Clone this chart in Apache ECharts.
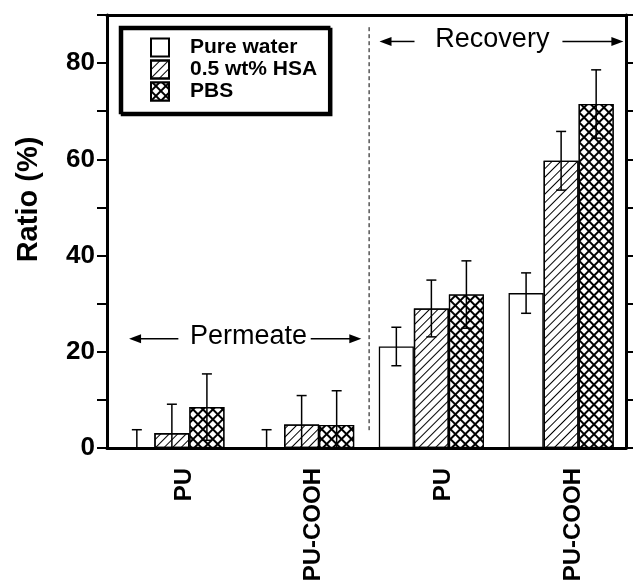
<!DOCTYPE html>
<html><head><meta charset="utf-8">
<script src="https://cdn.jsdelivr.net/npm/echarts@6/dist/echarts.min.js"></script>
<style>html,body{margin:0;padding:0;background:#fff}#c{width:633px;height:588px}</style>
</head><body><div id="c"></div>
<script>
// ---- data ----
const categories = ['PU', 'PU-COOH', 'PU', 'PU-COOH'];
const seriesNames = ['Pure water', '0.5 wt% HSA', 'PBS'];
const water = [0, 0, 21.1, 32.2];
const waterErr = [3.8, 3.8, 4.0, 4.2];
const hsa = [3.1, 4.9, 29.0, 59.7];
const hsaErr = [6.0, 6.0, 5.9, 6.1];
const pbs = [8.5, 4.8, 31.9, 71.5];
const pbsErr = [6.9, 7.1, 7.0, 7.1];
const yTickLabels = [0, 20, 40, 60, 80];
const regionLabels = ['Permeate', 'Recovery'];

const F = '"Liberation Sans", Arial, Helvetica, sans-serif';
const BAR_GAP_CAT = 0.19;

const chart = echarts.init(document.getElementById('c'), null, {renderer: 'canvas'});

function errSeries(vals, errs, k) {
  return {
    type: 'custom', name: seriesNames[k] + ' error', xAxisIndex: 0, yAxisIndex: 0,
    z: 5, clip: true, silent: true,
    data: vals.map((v, i) => [i, v, errs[i]]),
    encode: {x: 0, y: 1},
    renderItem(params, api) {
      const i = api.value(0), v = api.value(1), e = api.value(2);
      const band = api.size([1, 0])[0];
      const bw = band * (1 - BAR_GAP_CAT) / 3;
      const x = api.coord([i, v])[0] + (k - 1) * bw;
      const top = api.coord([i, v + e])[1];
      const bot = api.coord([i, v - e])[1];
      const cap = 5;
      const st = {stroke: '#000', lineWidth: 1.5};
      return {type: 'group', children: [
        {type: 'line', shape: {x1: x, y1: top, x2: x, y2: bot}, style: st},
        {type: 'line', shape: {x1: x - cap, y1: top, x2: x + cap, y2: top}, style: st},
        {type: 'line', shape: {x1: x - cap, y1: bot, x2: x + cap, y2: bot}, style: st}
      ]};
    }
  };
}

const option = {
  animation: false,
  backgroundColor: '#fff',
  grid: {left: 107, right: 7, top: 15, bottom: 140, containLabel: false},
  legend: {
    data: seriesNames, orient: 'vertical', left: 120, top: 27,
    padding: [10, 12, 11, 30], itemGap: 1, itemWidth: 18, itemHeight: 18,
    icon: 'rect',
    borderColor: '#000', borderWidth: 2.5, backgroundColor: '#fff',
    shadowColor: '#000', shadowOffsetX: 2, shadowOffsetY: 2, shadowBlur: 0,
    textStyle: {fontSize: 21, fontWeight: 'bold', fontFamily: F, color: '#000', padding: [0, 0, 0, 16]}
  },
  xAxis: [{
    type: 'category', data: categories, position: 'bottom',
    axisLine: {onZero: false, lineStyle: {color: '#000', width: 3}},
    axisTick: {show: false},
    axisLabel: {interval: 0, rotate: 90, margin: 20, fontSize: 24, fontWeight: 'bold',
      color: '#000', fontFamily: F, verticalAlign: 'top'}
  }, {
    type: 'category', data: categories, position: 'top',
    axisLine: {show: true, onZero: false, lineStyle: {color: '#000', width: 3}},
    axisTick: {show: false}, axisLabel: {show: false}
  }, {
    type: 'value', min: -0.5, max: 3.5, show: false
  }],
  yAxis: [{
    type: 'value', min: 0, max: 90, interval: 10, position: 'left',
    name: 'Ratio (%)', nameLocation: 'middle', nameGap: 64,
    nameTextStyle: {fontSize: 29, fontWeight: 'bold', color: '#000', fontFamily: F, padding: [0, 0, 0, 64]},
    axisLine: {show: true, onZero: false, lineStyle: {color: '#000', width: 3}},
    axisTick: {show: true, inside: false, length: 10, lineStyle: {color: '#000', width: 2}},
    axisLabel: {color: '#000', fontSize: 26, fontWeight: 'bold', fontFamily: F, margin: 12,
      formatter: v => yTickLabels.includes(v) ? String(v) : ''},
    splitLine: {show: false}
  }, {
    type: 'value', min: 0, max: 90, interval: 10, position: 'right',
    axisLine: {show: true, onZero: false, lineStyle: {color: '#000', width: 3}},
    axisTick: {show: true, inside: false, length: 8, lineStyle: {color: '#000', width: 2}},
    axisLabel: {show: false}, splitLine: {show: false}
  }],
  series: [
    {type: 'bar', name: seriesNames[0], data: water, barGap: '0%', barCategoryGap: (BAR_GAP_CAT * 100) + '%',
      itemStyle: {color: '#fff', borderColor: '#000', borderWidth: 1.3}},
    {type: 'bar', name: seriesNames[1], data: hsa, barGap: '0%', barCategoryGap: (BAR_GAP_CAT * 100) + '%',
      itemStyle: {color: '#fff', borderColor: '#000', borderWidth: 1.3,
        decal: {symbol: 'rect', symbolSize: 1, dashArrayX: [1, 0], dashArrayY: [1, 4.8],
          rotation: -Math.PI / 4, color: '#000'}}},
    {type: 'bar', name: seriesNames[2], data: pbs, barGap: '0%', barCategoryGap: (BAR_GAP_CAT * 100) + '%',
      itemStyle: {color: '#000', borderColor: '#000', borderWidth: 1.3,
        decal: {symbol: 'rect', symbolSize: 1, dashArrayX: [5, 1.1], dashArrayY: [5, 1.1],
          rotation: Math.PI / 4, color: '#fff'}}},
    errSeries(water, waterErr, 0),
    errSeries(hsa, hsaErr, 1),
    errSeries(pbs, pbsErr, 2)
  ]
};
chart.setOption(option);

// annotations in data units (x on the helper value axis, y on the ratio axis)
const annotations = [
  {text: regionLabels[0], y: 22.7, textX: 0.59, left: [0.05, -0.33], right: [1.07, 1.46]},
  {text: regionLabels[1], y: 84.5, textX: 2.47, left: [1.87, 1.60], right: [3.01, 3.48]}
];
const separator = {x: 1.52, y1: 3.7, y2: 88};

const PX = x => chart.convertToPixel({xAxisIndex: 2}, x);
const PY = y => chart.convertToPixel({yAxisIndex: 0}, y);

function arrow(xa, xb, y) {
  const x1 = PX(xa), x2 = PX(xb), yy = PY(y);
  const d = Math.sign(x2 - x1);
  return [
    {type: 'line', shape: {x1: x1, y1: yy, x2: x2 - d * 8, y2: yy}, style: {stroke: '#000', lineWidth: 1.5}, z: 10},
    {type: 'polygon', shape: {points: [[x2, yy], [x2 - d * 12, yy - 4.5], [x2 - d * 12, yy + 4.5]]}, style: {fill: '#000'}, z: 10}
  ];
}
const g = [];
annotations.forEach(a => {
  g.push(...arrow(a.left[0], a.left[1], a.y));
  g.push(...arrow(a.right[0], a.right[1], a.y));
  g.push({type: 'text', x: PX(a.textX), y: PY(a.y) - 2, z: 10,
    style: {text: a.text, fontSize: 27, fontFamily: F, fill: '#000', align: 'center', verticalAlign: 'middle'}});
});
g.push({type: 'line', z: 10, shape: {x1: PX(separator.x), y1: PY(separator.y1), x2: PX(separator.x), y2: PY(separator.y2)},
  style: {stroke: '#000', lineWidth: 1, lineDash: [4, 3]}});
chart.setOption({graphic: {elements: g}});
</script>
</body></html>
